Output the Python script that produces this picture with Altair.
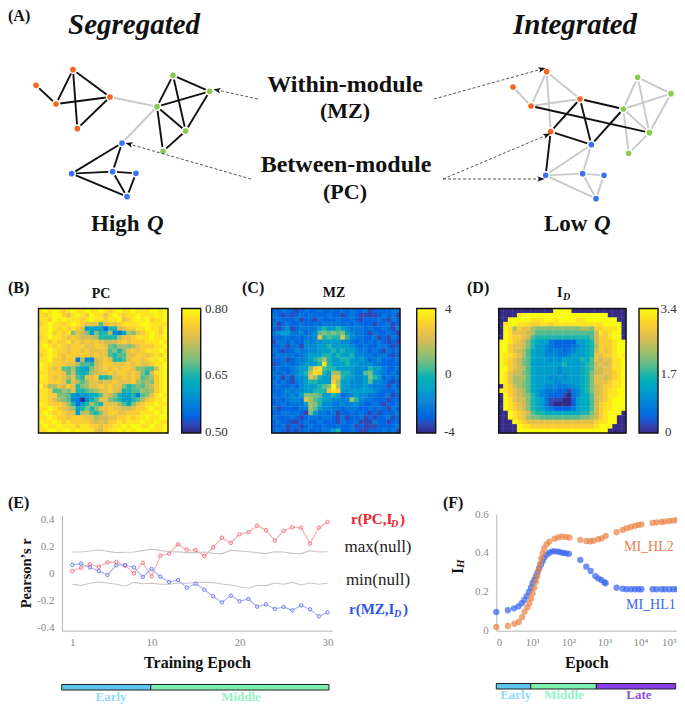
import altair as alt
import pandas as pd

SERIF = "Liberation Serif"
W, H = 669, 696

PARULA = ["#352a87", "#0363e1", "#1485d4", "#06a7c6", "#38b99e", "#92bf73", "#d9ba56", "#fcce2e", "#f9fb0e"]

PC_ROWS = [
"efef edef eefe efed efee feee ffef","edef fdce fedf eece fede efee efef",
"eedf efee edef eede efcd efef deef","defe edef edcc c8cd cdee eeff eeee",
"eefe dede dc56 5627 7bcd deef eedf","eefd ede9 cb95 977a 436a 9cde fedf",
"defe edcd cbbb a777 7acc deee feef","eede ddec dcdc dcbb bcdc ddde eefe",
"efed edcd ddcc ddc9 8aa9 acdd deef","eefe ddcd dcdc ccc8 979c dcde eefe",
"defe dcdd dddc dcc8 788c cddc dedf","eefd dcdd 3a44 bcdc 778c ddcd eefe",
"feed ddcc a887 bcdd cccd cdcc deef","fedc d88a 7659 bcdc dcdd c998 8bef",
"eedd dc8b 767a bccd cddc dc97 beef","fedc dcac 87cc d778 ccdc dc89 adef",
"eedd dc8c a8ac cbcc dccc da9a 9def","fdaa cbdc 79ac cdcd cc97 898a bdef",
"eed8 8a9c 7789 accd cb77 88a9 adef","eedd 9985 4556 68cb 9755 7389 cefe",
"eedc a984 3046 8cc9 8755 78ac deef","fedd dca7 357a 87cc ca86 9cde efee",
"eefe dcba 6797 9ccd ccbb cdde feef","efed edcc 5ab8 79cd dccd ddee efef",
"eefe ddcd ddcc abbc cdde deef eeff","feef eded dddc bcbd dede eefe efee",
"efee feee deed dcdd eefe ffee feef","eeff effe feee cbde efef efff eeef",
]
MZ_ROWS = [
"2232 2123 2232 2223 2322 3122 2233","3212 1232 3222 3221 2321 1112 3231",
"2322 2312 2132 2232 2321 2223 2132","3123 2232 2323 3332 3232 2212 2312",
"2134 1233 3357 5575 4333 2322 3213","3455 3342 3489 8989 5433 2132 2321",
"2233 2323 34c7 877c 7433 2231 2132","1332 3224 3445 5554 4323 2323 2121",
"2231 3314 4455 7555 5432 3223 3212","3212 2433 4455 5757 5543 3232 1323",
"2333 3234 5557 7575 5744 3323 3212","2231 2334 578a 7557 7545 4234 2223",
"1233 2345 557e 7555 7554 4433 2222","2322 3455 9de8 7755 5544 4755 3223",
"3232 3457 bed7 5aa7 7544 8954 3232","2313 1445 ca75 5cc7 5544 5975 2323",
"3232 1345 7755 5da5 5444 5844 3212","2322 3245 5578 9fa5 5444 5433 3132",
"2234 3445 5777 ced5 4555 5543 2223","3233 4359 9985 5752 3454 4332 2312",
"2323 443c a875 5443 4a74 3322 2122","2232 3335 a974 4334 3443 2232 1223",
"3122 2233 a854 4332 3332 2323 2132","2233 2321 9533 2312 2323 2121 2223",
"3222 3212 3323 3213 1223 1212 2312","2322 1123 2232 2213 2231 1132 2122",
"2231 2212 3223 2232 2312 1112 2223","2321 2123 2223 3572 2321 1222 3231",
]
ID_ROWS = [
"0000 0000 0000 ffff 0000 0000 0000","0000 efff ffff ffff ffff ffff 0000",
"00ff fffe eeff efff feef ffff ff00","0eff eeed deed eeee eeee eeef fff0",
"0fea dcca 9999 9999 99aa 9dde eef0","0fec ccba 8888 8888 8888 8bed eff0",
"0fed dcb8 7777 7777 7777 8bdd eff0","ffed cb97 6553 2222 2556 7bdd deff",
"ffdc cb97 5543 2222 3456 7add deff","ffdc ba86 5543 4323 4556 7bdc deff",
"feed ca86 5544 4334 5556 7ccd defe","fedc b986 5554 5465 5576 8cbc ceef",
"fedc b985 5555 5575 5567 8bcb ceef","ffdc ba86 5555 5455 5567 8bbc ceef",
"fecb b986 5555 5455 5567 9bbc cdef","feca aa86 5554 4545 5567 9ccb cdef",
"feca a986 5555 4455 5567 9ccc deef","0edb a986 5544 4334 4567 9bcd deef",
"fedc ba86 5433 3221 3467 9bcd eeff","0fdc ba97 5432 2210 3466 8bcd eeff",
"0fec bb97 6531 1100 2566 8bcd efff","0fed cb97 6531 0000 2566 8bde efff",
"0fed cb97 6543 2222 3566 8bde efff","00fe dcb8 7766 6666 6677 9bde fff0",
"00fe dca9 9888 8888 8899 abde ff00","000f edcc cccc cccc cccc cdee ff00",
"0000 feed dddd dddd dddd deff f000","0000 ffff ffff ffff ffff ffff 0000",
]

EPOCHS = list(range(1, 31))
R_PC = [.017,.042,.067,.049,.081,.084,.057,0,.079,-.022,.131,.146,.215,.175,.173,.128,.193,.264,.225,.289,.304,.353,.319,.242,.314,.341,.338,.22,.338,.38]
R_MZ = [.062,.072,.044,.017,-.012,.059,.062,.044,-.027,.032,-.025,-.064,-.049,-.106,-.077,-.121,-.17,-.215,-.165,-.207,-.19,-.247,-.23,-.264,-.249,-.274,-.237,-.267,-.319,-.289]
NULL_MAX = [.158,.158,.165,.173,.163,.153,.156,.158,.168,.178,.170,.158,.160,.153,.153,.158,.148,.146,.170,.165,.160,.153,.146,.160,.158,.148,.146,.168,.158,.160]
NULL_MIN = [-.081,-.089,-.074,-.064,-.072,-.081,-.096,-.067,-.077,-.074,-.081,-.081,-.072,-.074,-.067,-.067,-.069,-.079,-.086,-.099,-.111,-.089,-.091,-.072,-.081,-.067,-.086,-.072,-.081,-.074]

HL1_E = [1,2.1,3.1,4.1,5.1,6,7,8.1,9.2,10.2,11.4,12.6,14,15.6,17.4,19.4,21.5,25,29.7,36,42.6,51.6,61,72.6,86,104,215,316,417,562,681,826,1000,1089,2200,3230,4170,5500,7100,8800,10700,22000,28400,39100,48400,64000,82600,106000]
HL1_V = [.096,.105,.115,.125,.141,.158,.178,.2,.221,.244,.261,.281,.3,.321,.34,.358,.376,.391,.401,.408,.408,.407,.403,.4,.398,.395,.364,.329,.307,.281,.269,.261,.249,.244,.221,.216,.213,.213,.213,.213,.213,.213,.213,.213,.213,.213,.213,.213]
HL2_E = [1,2.1,3.2,4.2,5.2,6.1,7.3,8.3,9.2,10.2,11.4,12.6,13.8,15,16.3,17.8,19.4,21.5,25,29.7,41.7,52.7,66.7,86,107,215,316,408,495,681,843,1089,2200,3230,4170,5500,7100,8800,10700,22000,28400,39100,48400,64000,82600,106000]
HL2_V = [.019,.024,.036,.045,.069,.098,.12,.141,.166,.192,.221,.252,.281,.312,.343,.372,.398,.424,.444,.458,.473,.48,.484,.482,.479,.467,.461,.46,.463,.47,.475,.487,.506,.518,.527,.533,.539,.544,.547,.554,.557,.559,.561,.564,.566,.569]

NODE_IDS = list("abcdefghijklmno")
NODE_MODULE = ["o"] * 5 + ["g"] * 5 + ["b"] * 5
SEG_X = [108,168,219,330,232,519,629,471,557,489,366,215,338,408,381]
SEG_Y = [256,312,209,291,386,226,274,320,393,454,429,521,515,520,590]
INT_X = [519,573,620,720,632,893,993,850,928,866,754,617,728,792,768]
INT_Y = [261,318,215,297,395,232,281,327,398,460,434,526,521,526,596]
SEG_DARK = "ab bc cd bd ce de fg fh fi gh gi hi hj ij kl km lm mn mo no lo".split()
SEG_GRAY = "dh hk".split()
INT_GRAY = "ab bc cd bd ce fg fh fi gh gi hi hj ij kl km lm mn mo no lo".split()
INT_DARK = "dh bi de dk hk ek el".split()

ARROW_X1 = [258,251,434,443,443]
ARROW_Y1 = [99,179,99,179,179]
ARROW_X2 = [217,129,542,547,541]
ARROW_Y2 = [90,144,69,135,179]
ARROW_A = [282,286,74,67,90]

layers = []


def T(text, x, y, size, color="#111111", weight="bold", style="normal", align="left", angle=0):
    return alt.Chart(pd.DataFrame({"t": [text]})).mark_text(
        font=SERIF, fontSize=size, fontWeight=weight, fontStyle=style, color=color,
        align=align, baseline="alphabetic", angle=angle,
    ).encode(text="t:N", x=alt.value(x - 8), y=alt.value(y - 8))


def sx(domain, a, b, **kw):
    return alt.Scale(domain=domain, range=[a - 8, b - 8], nice=False, zero=False, **kw)


def network(xs, ys, dark, gray, xr, dom):
    pos = {n: (x, y) for n, x, y in zip(NODE_IDS, xs, ys)}
    out = []
    X = sx([0, dom], xr, xr + dom / 3)
    Y = sx([0, 750], 0, 250)
    for edges, col in ((gray, "#c9c9c9"), (dark, "#111111")):
        df = pd.DataFrame([{"x": pos[e[0]][0], "y": pos[e[0]][1], "x2": pos[e[1]][0], "y2": pos[e[1]][1]} for e in edges])
        out.append(alt.Chart(df).mark_rule(color=col, strokeWidth=1.9).encode(
            x=alt.X("x:Q", scale=X, axis=None), x2="x2:Q",
            y=alt.Y("y:Q", scale=Y, axis=None), y2="y2:Q"))
    nd = pd.DataFrame({"x": xs, "y": ys, "m": NODE_MODULE})
    out.append(alt.Chart(nd).mark_point(filled=True, size=52, opacity=1, stroke="white", strokeWidth=1.6).encode(
        x=alt.X("x:Q", scale=X, axis=None), y=alt.Y("y:Q", scale=Y, axis=None),
        fill=alt.Fill("m:N", legend=None, scale=alt.Scale(domain=["o", "g", "b"], range=["#f5651e", "#8cc84b", "#3a72f0"]))))
    return out


layers += network(SEG_X, SEG_Y, SEG_DARK, SEG_GRAY, 0, 1020)
layers += network(INT_X, INT_Y, INT_DARK, INT_GRAY, 340, 1035)

arrows = pd.DataFrame({"x": ARROW_X1, "y": ARROW_Y1, "x2": ARROW_X2, "y2": ARROW_Y2, "a": ARROW_A})
PX = sx([0, 685], 0, 685)
PY = sx([0, 712], 0, 712)
layers.append(alt.Chart(arrows).mark_rule(color="#444444", strokeWidth=0.9, strokeDash=[3, 2]).encode(
    x=alt.X("x:Q", scale=PX, axis=None), x2="x2:Q", y=alt.Y("y:Q", scale=PY, axis=None), y2="y2:Q"))
layers.append(alt.Chart(arrows).mark_point(
    filled=True, size=55, opacity=1, color="#111111",
    shape="M0,-1 L0.75,1 L0,0.45 L-0.75,1 Z",
).encode(x=alt.X("x2:Q", scale=PX, axis=None), y=alt.Y("y2:Q", scale=PY, axis=None),
         angle=alt.Angle("a:Q", scale=None)))


def heat(rows, lo, hi, x0, x1, y0, y1, lx):
    recs = []
    for r, s in enumerate(rows):
        for c, ch in enumerate(s.replace(" ", "")):
            recs.append({"c": c, "c2": c + 1.08, "r": r, "r2": r + 1.08, "v": lo + (hi - lo) * int(ch, 16) / 15})
    X = sx([0, 28], x0, x1)
    Y = sx([0, 28], y0, y1)
    dom = [lo + (hi - lo) * i / 8 for i in range(9)]
    cells = alt.Chart(pd.DataFrame(recs)).mark_rect().encode(
        x=alt.X("c:Q", scale=X, axis=None), x2="c2:Q",
        y=alt.Y("r:Q", scale=Y, axis=None), y2="r2:Q",
        color=alt.Color("v:Q", title=None, scale=alt.Scale(domain=dom, range=PARULA),
                        legend=alt.Legend(orient="none", legendX=lx - 8, legendY=y0 - 8, direction="vertical",
                                          gradientLength=y1 - y0, gradientThickness=19,
                                          gradientStrokeColor="#111111", gradientStrokeWidth=1.4,
                                          labelExpr="''")),
    )
    frame = alt.Chart(pd.DataFrame({"a": [0], "b": [28]})).mark_rect(
        fillOpacity=0, stroke="#111111", strokeWidth=1.4).encode(
        x=alt.X("a:Q", scale=X, axis=None), x2="b:Q",
        y=alt.Y("a:Q", scale=Y, axis=None), y2="b:Q")
    return [cells, frame]


layers += heat(PC_ROWS, 0.5, 0.8, 38.5, 168, 308.5, 433, 181.7)
layers += heat(MZ_ROWS, -4, 4, 271.7, 400, 308.5, 433, 416.7)
layers += heat(ID_ROWS, 0, 3.4, 498.7, 626, 308.5, 433, 639)

# Colourbar labels
for lab, x, y in (("0.80", 205, 312.5), ("0.65", 205, 378.5), ("0.50", 205, 435.5),
                  ("4", 445, 312.5), ("0", 445, 377.5), ("-4", 444, 436),
                  ("3.4", 660.5, 312.5), ("1.7", 660.5, 377.5), ("0", 665, 435.5)):
    layers.append(T(lab, x, y, 13, color="#333333", weight="normal"))

# Panel E
EX = sx([-0.17, 30.5], 62, 332)
EY = sx([-0.425, 0.432], 630.7, 515)
edf = pd.DataFrame({"e": EPOCHS, "pc": R_PC, "mz": R_MZ, "mx": NULL_MAX, "mn": NULL_MIN})
layers.append(alt.Chart(edf).mark_line(color="#c6c6c6", strokeWidth=1.1).encode(
    x=alt.X("e:Q", scale=EX, axis=alt.Axis(
        orient="bottom", offset=-(H - 622.7), values=[1, 10, 20, 30], grid=False, ticks=False,
        domainColor="#b5b5b5", labelColor="#888888", labelFont=SERIF, labelFontSize=11, labelPadding=6,
        title="Training Epoch", titleFont=SERIF, titleFontSize=16, titleFontWeight="bold",
        titleColor="#111111", titlePadding=7)),
    y=alt.Y("mx:Q", scale=EY, axis=alt.Axis(
        orient="left", offset=-54, values=[-0.4, -0.2, 0, 0.2, 0.4], grid=False, ticks=False,
        domainColor="#b5b5b5", labelColor="#888888", labelFont=SERIF, labelFontSize=11, labelPadding=8,
        labelExpr="''+datum.value",
        title="Pearson\u2019s r", titleFont=SERIF, titleFontSize=14.5, titleFontWeight="bold",
        titleColor="#111111", titlePadding=3))))
layers.append(alt.Chart(edf).mark_line(color="#c6c6c6", strokeWidth=1.1).encode(
    x=alt.X("e:Q", scale=EX, axis=None), y=alt.Y("mn:Q", scale=EY, axis=None)))
for fld, lc, pc in (("pc", "#f7aab0", "#ee6a75"), ("mz", "#aab0f5", "#6a75e6")):
    layers.append(alt.Chart(edf).mark_line(color=lc, strokeWidth=1.1).encode(
        x=alt.X("e:Q", scale=EX, axis=None), y=alt.Y(f"{fld}:Q", scale=EY, axis=None)))
    layers.append(alt.Chart(edf).mark_point(color=pc, size=12, strokeWidth=0.9, fill="white", fillOpacity=0.35, opacity=1).encode(
        x=alt.X("e:Q", scale=EX, axis=None), y=alt.Y(f"{fld}:Q", scale=EY, axis=None)))

# Panel F
FX = sx([1, 100000], 496.3, 676.3, type="log")
FY = sx([0, 0.6], 630.7, 514)
layers.append(alt.Chart(pd.DataFrame({"e": HL1_E, "v": HL1_V})).mark_circle(color="#3a66ee", size=40, opacity=0.72).encode(
    x=alt.X("e:Q", scale=FX, axis=alt.Axis(
        orient="bottom", offset=-(H - 622.7), values=[1, 10, 100, 1000, 10000, 100000], grid=False, ticks=False,
        domainColor="#b5b5b5", labelColor="#888888", labelFont=SERIF, labelFontSize=11, labelPadding=6,
        labelFlush=True,
        labelExpr="datum.value==1?'0':'10'+['','\u00b9','\u00b2','\u00b3','\u2074','\u2075'][round(log(datum.value)/LN10)]",
        title="Epoch", titleFont=SERIF, titleFontSize=16, titleFontWeight="bold", titleColor="#111111", titlePadding=7)),
    y=alt.Y("v:Q", scale=FY, axis=alt.Axis(
        orient="left", offset=-488.3, values=[0, 0.2, 0.4, 0.6], grid=False, ticks=False,
        domainColor="#b5b5b5", labelColor="#888888", labelFont=SERIF, labelFontSize=11, labelPadding=8,
        labelExpr="''+datum.value", title=None))))
layers.append(alt.Chart(pd.DataFrame({"e": HL2_E, "v": HL2_V})).mark_circle(color="#ea8548", size=40, opacity=0.72).encode(
    x=alt.X("e:Q", scale=FX, axis=None), y=alt.Y("v:Q", scale=FY, axis=None)))

# Phase bars
PHASE = alt.Scale(domain=["Early", "Middle", "Late"], range=["#5cc6ee", "#7cf0ae", "#8a3ceb"])
ebar = pd.DataFrame({"a": [0, 10], "b": [10, 30], "p": ["Early", "Middle"], "lo": [0, 0], "hi": [1, 1]})
layers.append(alt.Chart(ebar).mark_rect(stroke="#222222", strokeWidth=1).encode(
    x=alt.X("a:Q", scale=sx([0, 30], 61.7, 329), axis=None), x2="b:Q",
    y=alt.Y("lo:Q", scale=sx([0, 1], 690, 684.5), axis=None), y2="hi:Q",
    fill=alt.Fill("p:N", scale=PHASE, legend=None)))
fbar = pd.DataFrame({"a": [1, 9, 600], "b": [9, 600, 96000], "p": ["Early", "Middle", "Late"], "lo": [0, 0, 0], "hi": [1, 1, 1]})
layers.append(alt.Chart(fbar).mark_rect(stroke="#222222", strokeWidth=1).encode(
    x=alt.X("a:Q", scale=sx([1, 100000], 496.3, 676.3, type="log"), axis=None), x2="b:Q",
    y=alt.Y("lo:Q", scale=sx([0, 1], 689, 683.5), axis=None), y2="hi:Q",
    fill=alt.Fill("p:N", scale=PHASE, legend=None)))

# Text
for lab, x, y in (("(A)", 8, 21), ("(B)", 8, 293), ("(C)", 242, 293), ("(D)", 467, 293), ("(E)", 8, 508), ("(F)", 443, 508)):
    layers.append(T(lab, x, y, 16))
layers += [
    T("Segregated", 68, 34, 29, style="italic"),
    T("Integrated", 513, 34, 29, style="italic"),
    T("Within-module", 345, 92, 24, align="center"),
    T("(MZ)", 345, 118, 22, align="center"),
    T("Between-module", 346, 172, 24, align="center"),
    T("(PC)", 345, 199, 22, align="center"),
    T("High", 91, 231, 23), T("Q", 147, 231, 23, style="italic"),
    T("Low", 544, 231, 23), T("Q", 594, 231, 23, style="italic"),
    T("PC", 101, 298, 14, align="center"),
    T("MZ", 334, 297, 14, align="center"),
    T("I", 557, 297, 14), T("D", 563, 300, 10, style="italic"),
    T("r(PC,I", 351, 524, 15, color="#f0222e"), T("D", 391, 527, 10, color="#f0222e", style="italic"), T(")", 400, 524, 15, color="#f0222e"),
    T("max(null)", 378, 552, 17, color="#222222", weight="normal", align="center"),
    T("min(null)", 378, 585, 17, color="#222222", weight="normal", align="center"),
    T("r(MZ,I", 349, 614, 15, color="#2a55e8"), T("D", 394, 617, 10, color="#2a55e8", style="italic"), T(")", 403, 614, 15, color="#2a55e8"),
    T("MI_HL2", 624, 551, 14, color="#e8824a", weight="normal"),
    T("MI_HL1", 626, 609, 14, color="#3a66ee", weight="normal"),
    T("I", 463, 574, 16, angle=270), T("H", 464, 568, 11, style="italic", angle=270),
    T("Early", 111, 701, 13, color="#92dcfa", align="center"),
    T("Middle", 241, 701, 13, color="#92f5c4", align="center"),
    T("Early", 515.7, 699, 13, color="#92dcfa", align="center"),
    T("Middle", 564, 699, 13, color="#92f5c4", align="center"),
    T("Late", 639, 699, 13, color="#8a4fe0", align="center"),
]

chart = alt.layer(*layers).resolve_scale(
    x="independent", y="independent", color="independent", fill="independent"
).properties(width=W, height=H, padding=0, autosize=alt.AutoSizeParams(type="none")).configure_view(stroke=None)

chart.save("out.html", embed_options={"renderer": "svg", "actions": False})
